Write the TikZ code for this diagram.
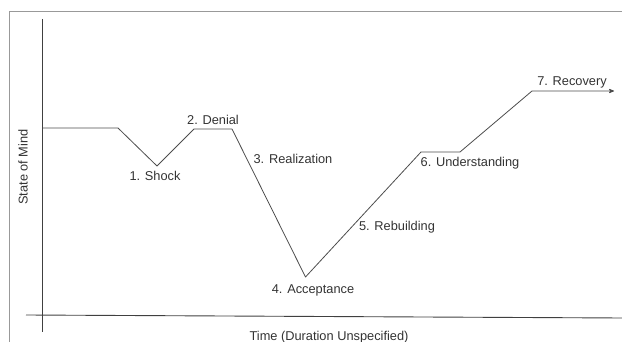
\documentclass[tikz,border=0pt]{standalone}
\usepackage{fontspec}
\setmainfont{Liberation Sans}
\usetikzlibrary{arrows}

\begin{document}
\begin{tikzpicture}[x=1pt, y=-1pt, >=stealth', font=\fontsize{12.8}{15}\selectfont,
    curve/.style={draw=black!70, line width=0.8pt, line join=round},
    axis/.style={draw=black!75, line width=0.9pt},
    frame/.style={draw=black!40, line width=0.8pt},
    stage/.style={text=black!80, inner sep=0pt, anchor=base}]
  \useasboundingbox (0,0) rectangle (622,342);
  \draw[frame] (9,342) -- (9,11) -- (622,11);

  % axes
  \coordinate (ytop) at (42.5,19);
  \coordinate (ybot) at (42.5,332);
  \coordinate (xl)   at (26,315);
  \coordinate (xr)   at (622,318);
  \draw[axis] (ytop) -- (ybot);
  \draw[axis] (xl) -- (xr);

  % the curve
  \coordinate (p0) at (42.5,128);
  \coordinate (p1) at (118,128);
  \coordinate (p2) at (157,166);
  \coordinate (p3) at (194,129);
  \coordinate (p4) at (232,129);
  \coordinate (p5) at (305.5,277);
  \coordinate (p6) at (421,152);
  \coordinate (p7) at (460,152);
  \coordinate (p8) at (532,91);
  \coordinate (p9) at (614,91);
  \draw[curve,->] (p0) -- (p1) -- (p2) -- (p3) -- (p4) -- (p5) -- (p6) -- (p7) -- (p8) -- (p9);

  \node[stage] (shock)   at (155,180.5) {1. Shock};
  \node[stage] (denial)  at (213,124.5) {2. Denial};
  \node[stage] (real)    at (293,163.5) {3. Realization};
  \node[stage] (accept)  at (313,293.5) {4. Acceptance};
  \node[stage] (rebuild) at (397,230.5) {5. Rebuilding};
  \node[stage] (under)   at (470,166.5) {6. Understanding};
  \node[stage] (recov)   at (572,85.5)  {7. Recovery};

  \node[stage, anchor=center] (ylab) at (23,167) [rotate=90] {State of Mind};
  \node[stage] (xlab) at (329,340.5) {Time (Duration Unspecified)};
\end{tikzpicture}
\end{document}
